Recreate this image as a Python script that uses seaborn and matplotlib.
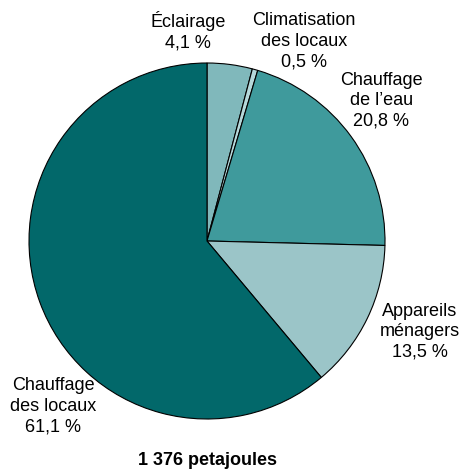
import matplotlib
matplotlib.use('Agg')
import matplotlib.pyplot as plt
import seaborn as sns

# ── DATA ─────────────────────────────────────────────────────────────
categories = ['Éclairage', 'Climatisation\ndes locaux', 'Chauffage\nde l\u2019eau',
              'Appareils\nménagers', 'Chauffage\ndes locaux']
shares = [4.1, 0.5, 20.8, 13.5, 61.1]
total_label = '1 376 petajoules'

colors = ['#80b8bb', '#b5d8da', '#3f9a9c', '#9bc5c8', '#02686a']

sns.set_theme(style='white')
plt.rcParams['font.family'] = ['Liberation Sans', 'DejaVu Sans']

fig = plt.figure(figsize=(4.61, 4.69), dpi=100)
# pie axes placed so the circle sits where it does in the reference
ax = fig.add_axes([29 / 461, 50 / 469, 356 / 461, 356 / 469])

ax.pie(shares, colors=colors, startangle=90, counterclock=False, radius=1,
       wedgeprops=dict(edgecolor='black', linewidth=0.8))
ax.set_xlim(-1, 1)
ax.set_ylim(-1, 1)
ax.set_aspect('equal')
ax.axis('off')

# label positions (data coords around the unit circle)
label_pos = [(-0.107, 1.178), (0.545, 1.122), (0.978, 0.787), (1.197, -0.511), (-0.865, -0.927)]
for cat, val, (x, y) in zip(categories, shares, label_pos):
    txt = f"{cat}\n{val:.1f} %".replace('.', ',')
    ax.text(x, y, txt, ha='center', va='center', fontsize=13, linespacing=1.27,
            color='black')

ax.text(0, -1.235, total_label, ha='center', va='center', fontsize=13,
        fontweight='bold', color='black')

plt.savefig('out.png', dpi=100)
